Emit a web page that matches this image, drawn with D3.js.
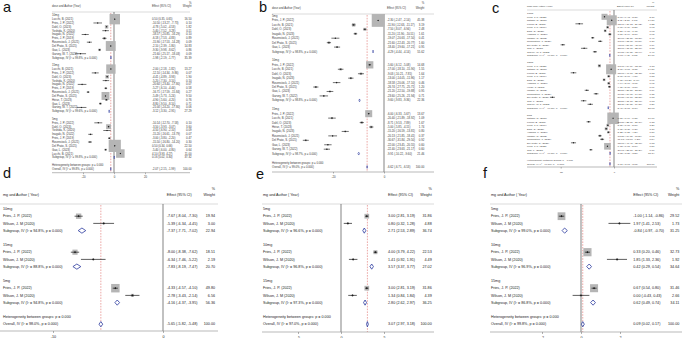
<!DOCTYPE html>
<html lang="en">
<head>
<meta charset="utf-8">
<title>Forest plots</title>
<script src="https://cdn.jsdelivr.net/npm/d3@7"></script>
<style>
  body { margin: 0; background: #fff; }
  svg { display: block; font-family: "Liberation Sans", Arial, sans-serif; }
</style>
</head>
<body>
<svg id="chart" width="685" height="338"></svg>
<script>
// ---- data: [study, effect, lower, upper, weight] ; subgroup: [effect, lower, upper, weight, I2]
var a10 = [
  ["Lucchi, B. (2021)", 0.50, 0.35, 0.65, 16.50],
  ["Fries, J. P. (2022)", -10.50, -13.27, -7.73, 0.10],
  ["Dahl, O. (2023)", -4.78, -5.02, -4.53, 1.82],
  ["Yoshida, K. (2020)", -5.40, -7.52, -3.28, 0.11],
  ["Inagaki, N. (2022)", -18.57, -20.85, -16.29, 0.10],
  ["Fries, J. P. (2019)", -6.18, -7.53, -4.83, 0.89],
  ["Rosenstock, J. (2021)", -15.90, -17.53, -14.28, 0.09],
  ["Del Prato, S. (2021)", -2.10, -2.39, -1.80, 14.83],
  ["Gao, L. (2023)", -9.30, -9.98, -8.62, 0.86],
  ["Garvey, W. T. (2022)", -21.60, -25.17, -18.03, 0.09]
];
var a10Sub = [-1.98, -2.19, -1.77, 35.39, "99.8%"];
var a15 = [
  ["Lucchi, B. (2021)", -2.00, -2.18, -1.82, 13.27],
  ["Fries, J. P. (2022)", -12.10, -14.34, -9.86, 0.07],
  ["Dahl, O. (2023)", -4.41, -4.89, -3.93, 1.90],
  ["Yoshida, K. (2020)", -5.20, -7.30, -3.10, 0.10],
  ["Inagaki, N. (2022)", -20.60, -23.40, -17.80, 0.07],
  ["Fries, J. P. (2019)", -5.27, -6.10, -4.44, 0.58],
  ["Rosenstock, J. (2021)", -16.71, -17.59, -15.84, 0.27],
  ["Del Prato, S. (2021)", -5.49, -5.73, -5.24, 9.50],
  ["Heise, T. (2023)", -4.90, -5.60, -4.20, 0.76],
  ["Gao, L. (2023)", -8.80, -9.50, -8.10, 0.71],
  ["Garvey, W. T. (2022)", -21.00, -24.20, -17.80, 0.06]
];
var a15Sub = [-3.12, -3.30, -2.95, 27.29, "99.6%"];
var a5 = [
  ["Fries, J. P. (2022)", -10.14, -12.70, -7.58, 0.10],
  ["Dahl, O. (2023)", -3.50, -3.93, -3.07, 3.60],
  ["Yoshida, K. (2020)", -4.50, -6.90, -2.10, 0.09],
  ["Inagaki, N. (2022)", -15.20, -16.61, -13.79, 0.07],
  ["Fries, J. P. (2019)", -3.00, -3.80, -2.20, 0.47],
  ["Rosenstock, J. (2021)", -15.50, -16.80, -14.20, 0.30],
  ["Del Prato, S. (2021)", 0.50, 0.34, 0.66, 22.50],
  ["Gao, L. (2023)", -5.40, -6.00, -4.80, 0.64],
  ["Lucchi, B. (2021)", 4.10, 3.93, 4.27, 11.00]
];
var a5Sub = [0.16, 0.02, 0.30, 37.32, "99.8%"];
var aOverall = [-2.07, -2.15, -1.99, "99.8%"];

var b5 = [
  ["Fries, J. P. (2022)", -2.30, -2.47, -2.14, 45.38],
  ["Lucchi, B. (2021)", -11.90, -12.63, -11.17, 3.19],
  ["Dahl, O. (2023)", -7.50, -8.07, -6.94, 2.48],
  ["Inagaki, N. (2023)", -11.20, -11.90, -10.51, 1.61],
  ["Rosenstock, J. (2021)", -19.07, -20.63, -17.50, 0.41],
  ["Del Prato, S. (2021)", -21.60, -22.43, -20.77, 1.60],
  ["Gao, L. (2023)", -18.40, -19.60, -17.21, 0.95]
];
var b5Sub = [-4.29, -4.44, -4.14, 55.62, "98.8%"];
var b10 = [
  ["Fries, J. P. (2022)", -5.60, -6.12, -5.08, 14.68],
  ["Lucchi, B. (2021)", -17.00, -18.10, -15.90, 1.55],
  ["Dahl, O. (2023)", -9.03, -10.21, -7.85, 1.64],
  ["Inagaki, N. (2023)", -13.00, -14.05, -11.96, 1.17],
  ["Rosenstock, J. (2021)", -18.58, -20.06, -17.10, 0.46],
  ["Del Prato, S. (2021)", -26.74, -27.75, -25.71, 1.20],
  ["Gao, L. (2023)", -21.20, -22.50, -19.88, 0.95],
  ["Garvey, W. T. (2022)", -23.60, -25.26, -21.94, 0.71]
];
var b10Sub = [-9.60, -9.83, -9.36, 22.36, "98.8%"];
var b15 = [
  ["Fries, J. P. (2022)", -6.00, -6.33, -5.67, 13.67],
  ["Lucchi, B. (2021)", -20.40, -21.89, -18.92, 1.09],
  ["Dahl, O. (2023)", -8.71, -9.53, -7.89, 1.67],
  ["Heise, T. (2023)", -5.00, -5.85, -4.15, 1.74],
  ["Inagaki, N. (2023)", -15.20, -16.59, -13.81, 0.80],
  ["Rosenstock, J. (2021)", -20.13, -21.85, -18.41, 0.37],
  ["Del Prato, S. (2021)", -30.67, -31.84, -29.50, 0.92],
  ["Gao, L. (2023)", -22.00, -23.45, -20.55, 0.60],
  ["Garvey, W. T. (2022)", -22.40, -23.63, -21.17, 0.60]
];
var b15Sub = [-9.91, -10.22, -9.60, 21.46, "98.7%"];
var bOverall = [-6.62, -6.71, -6.53, "99.0%"];

var c10 = [
  ["Fries, J. P. (2022)", -8.90, -9.43, -8.37, 5.37],
  ["Nathan, N. (2020)", -2.11, -2.51, -1.71, 14.80],
  ["Lucchi, B. (2021)", -32.60, -36.18, -29.02, 0.22],
  ["Fries, J. P. (2019)", -6.00, -6.79, -5.21, 0.98],
  ["Dahl, O. (2023)", -8.27, -9.06, -7.48, 0.98],
  ["Yoshida, K. (2020)", -3.87, -5.14, -2.60, 0.95],
  ["Inagaki, N. (2022)", -20.00, -21.50, -18.50, 0.40],
  ["Rosenstock, J. (2021)", -13.00, -15.00, -11.00, 0.30],
  ["Del Prato, S. (2021)", -48.00, -50.10, -45.90, 0.19],
  ["Gao, L. (2023)", -28.00, -31.00, -25.00, 0.18],
  ["Garvey, W. T. (2022)", -17.87, -19.80, -15.94, 0.40]
];
var c10Sub = [-3.93, -4.11, -3.75, 24.77, "99.8%"];
var c15 = [
  ["Fries, J. P. (2022)", -13.70, -14.69, -12.71, 1.33],
  ["Nathan, N. (2020)", -2.70, -3.07, -2.33, 14.80],
  ["Lucchi, B. (2021)", -38.00, -40.67, -35.33, 0.18],
  ["Fries, J. P. (2019)", -5.00, -5.90, -4.10, 0.88],
  ["Dahl, O. (2023)", -9.30, -10.20, -8.40, 0.96],
  ["Yoshida, K. (2020)", -4.94, -5.90, -3.98, 0.95],
  ["Heise, T. (2023)", -4.30, -5.60, -3.00, 0.61],
  ["Inagaki, N. (2022)", -25.50, -27.50, -23.50, 0.19],
  ["Rosenstock, J. (2021)", -16.80, -19.00, -14.60, 0.35],
  ["Del Prato, S. (2021)", -57.80, -60.10, -55.50, 0.18],
  ["Gao, L. (2023)", -28.50, -31.10, -25.90, 0.13],
  ["Garvey, W. T. (2022)", -22.30, -24.80, -19.80, 0.27]
];
var c15Sub = [-5.40, -5.61, -5.19, 20.63, "99.8%"];
var c5 = [
  ["Nathan, N. (2020)", -0.87, -0.99, -0.75, 19.60],
  ["Lucchi, B. (2021)", -23.80, -25.76, -21.84, 0.38],
  ["Fries, J. P. (2019)", -5.80, -6.60, -5.00, 1.20],
  ["Dahl, O. (2023)", -7.30, -8.30, -6.30, 1.30],
  ["Yoshida, K. (2020)", -5.25, -6.21, -4.29, 0.80],
  ["Inagaki, N. (2022)", -13.20, -14.81, -11.59, 0.68],
  ["Rosenstock, J. (2021)", -11.13, -13.00, -9.26, 0.54],
  ["Del Prato, S. (2021)", -38.00, -40.40, -35.60, 0.18],
  ["Fries, J. P. (2022)", -6.15, -6.61, -5.69, 6.50],
  ["Gao, L. (2023)", -21.67, -23.10, -20.24, 0.16]
];
var c5Sub = [-3.65, -3.80, -3.50, 31.34, "99.8%"];
var cOverall = [-3.77, -3.91, -3.63, "99.8%"];

var d10 = [["Fries, J. P. (2022)", -7.67, -8.04, -7.30, 19.94], ["Wilson, J. M (2020)", -5.39, -6.34, -4.45, 3.00]];
var d10Sub = [-7.37, -7.71, -7.02, 22.94, "94.8%"];
var d15 = [["Fries, J. P. (2022)", -8.00, -8.38, -7.62, 18.51], ["Wilson, J. M (2020)", -6.34, -7.46, -5.22, 2.19]];
var d15Sub = [-7.83, -8.19, -7.47, 20.70, "88.8%"];
var d5 = [["Fries, J. P. (2022)", -4.33, -4.57, -4.10, 49.80], ["Wilson, J. M (2020)", -2.78, -3.43, -2.14, 6.56]];
var d5Sub = [-4.16, -4.37, -3.95, 56.36, "94.8%"];
var dOverall = [-5.65, -5.82, -5.48, "98.0%"];

var e5 = [["Fries, J. P. (2022)", 3.00, 2.81, 3.19, 31.86], ["Wilson, J. M (2020)", 0.80, 0.32, 1.28, 4.88]];
var e5Sub = [2.71, 2.53, 2.89, 36.74, "96.6%"];
var e10 = [["Fries, J. P. (2022)", 4.00, 3.79, 4.22, 22.53], ["Wilson, J. M (2020)", 1.41, 0.92, 1.91, 4.49]];
var e10Sub = [3.57, 3.37, 3.77, 27.02, "96.8%"];
var e15 = [["Fries, J. P. (2022)", 3.00, 2.81, 3.19, 31.86], ["Wilson, J. M (2020)", 1.34, 0.84, 1.84, 4.39]];
var e15Sub = [2.80, 2.62, 2.97, 36.25, "97.3%"];
var eOverall = [3.07, 2.97, 3.18, "97.0%"];

var f5 = [["Fries, J. P. (2022)", -1.00, -1.14, -0.86, 29.52], ["Wilson, J. M (2020)", 1.97, 1.41, 2.53, 1.73]];
var f5Sub = [-0.84, -0.97, -0.70, 31.25, "99.0%"];
var f10 = [["Fries, J. P. (2022)", 0.33, 0.20, 0.46, 32.73], ["Wilson, J. M (2020)", 1.85, 1.33, 2.36, 1.92]];
var f10Sub = [0.42, 0.29, 0.54, 34.64, "96.9%"];
var f15 = [["Fries, J. P. (2022)", 0.67, 0.54, 0.80, 31.46], ["Wilson, J. M (2020)", 0.00, -0.43, 0.43, 2.66]];
var f15Sub = [0.62, 0.49, 0.74, 34.11, "86.8%"];
var fOverall = [0.09, 0.02, 0.17, "99.8%"];

var ticksA = [-20, 0, 20], ticksB = [-20, 0], ticksC = [-50, 0];
var ticksD = [-10, 0], ticksE = [-5, 0, 5], ticksF = [-2, 0, 2];

// ---- layout of the six panels ----
var styleTop = {fs: 2.8, hdr: "dose and Author (Year)", tick: 1.5, dia: 1.4, mark: 0.8, ci: 0.6, txt: "#3a3a3a"};
var styleTopC = {fs: 2.5, hdr: "dose and Author (Year)", tick: 1.5, dia: 1.3, mark: 0.75, ci: 0.6, txt: "#3a3a3a"};
var styleBot = {fs: 3.7, hdr: "mg and Author ( Year)", tick: 2, dia: 2.6, mark: 1.1, ci: 0.7, txt: "#222"};

var panels = [
  {lab: "a", lx: 3, ly: 12, st: styleTop, groups: [["10mg", a10, a10Sub], ["15mg", a15, a15Sub], ["5mg", a5, a5Sub]], overall: aOverall,
   dom: [-20, 20], rng: [83, 145], ticks: ticksA, y0: 15.3, dy: 3.84, nameX: 52, effX: 152, wtX: 191.5,
   pctY: 3.6, hdrY: 7.4, hdrLine: 12, x0: 52, x1: 190, axisY: 172.7, tickY: 178, boxK: 2.57},
  {lab: "b", lx: 259, ly: 12, st: styleTop, groups: [["5mg", b5, b5Sub], ["10mg", b10, b10Sub], ["15mg", b15, b15Sub]], overall: bOverall,
   dom: [-20, 0], rng: [333, 384], ticks: ticksB, y0: 16, dy: 4.44, nameX: 272, effX: 387, wtX: 424.3,
   pctY: 4.2, hdrY: 9.2, hdrLine: 14, x0: 272, x1: 434, axisY: 172, tickY: 177.5, boxK: 1.9},
  {lab: "c", lx: 492, ly: 13, st: styleTopC, groups: [["10mg", c10, c10Sub], ["15mg", c15, c15Sub], ["5mg", c5, c5Sub]], overall: cOverall,
   dom: [-50, 0], rng: [560.7, 614], ticks: ticksC, y0: 13.3, dy: 3.5, nameX: 527, effX: 617, wtX: 654.3,
   pctY: 3, hdrY: 6.8, hdrLine: 10, x0: 527, x1: 657, axisY: 167, tickY: 173, boxK: 2.6},
  {lab: "d", lx: 3, ly: 178, st: styleBot, groups: [["10mg", d10, d10Sub], ["15mg", d15, d15Sub], ["5mg", d5, d5Sub]], overall: dOverall,
   dom: [-10, 0], rng: [53, 163], ticks: ticksD, y0: 209, dy: 7.2, nameX: 3, effX: 166.7, wtX: 215,
   pctY: 189.5, hdrY: 195.5, hdrLine: 204, x0: 0, x1: 218, axisY: 331, tickY: 338, boxK: 1.2},
  {lab: "e", lx: 256, ly: 179, st: styleBot, groups: [["5mg", e5, e5Sub], ["10mg", e10, e10Sub], ["15mg", e15, e15Sub]], overall: eOverall,
   dom: [-5, 5], rng: [298, 384], ticks: ticksE, y0: 209, dy: 7.2, nameX: 263, effX: 388, wtX: 431.7,
   pctY: 189.5, hdrY: 195.5, hdrLine: 204, x0: 262, x1: 434, axisY: 332, tickY: 338.5, boxK: 0.84},
  {lab: "f", lx: 483, ly: 178, st: styleBot, groups: [["5mg", f5, f5Sub], ["10mg", f10, f10Sub], ["15mg", f15, f15Sub]], overall: fOverall,
   dom: [-2, 2], rng: [542, 620], ticks: ticksF, y0: 209, dy: 7.2, nameX: 491, effX: 633.3, wtX: 679.3,
   pctY: 189.5, hdrY: 195.5, hdrLine: 204, x0: 490, x1: 682, axisY: 332, tickY: 338.5, boxK: 1.43}
];

var svg = d3.select("#chart");
var ink = "#1a1a1a", navy = "#2b3a9e", boxGray = "#b5b5b5";
function f2(v) { return v.toFixed(2); }
function ciText(e, l, u) { return f2(e) + " (" + f2(l) + ", " + f2(u) + ")"; }

function buildRows(p) {
  var rows = [], k = 0;
  p.groups.forEach(function(g) {
    rows.push({type: "group", name: g[0], k: k++});
    g[1].forEach(function(s) {
      rows.push({type: "study", name: s[0], eff: s[1], lo: s[2], hi: s[3], w: s[4], k: k++});
    });
    var sb = g[2];
    rows.push({type: "sub", name: "Subgroup, IV (I\u00b2 = " + sb[4] + ", p = 0.000)", eff: sb[0], lo: sb[1], hi: sb[2], w: sb[3], k: k++});
    k++;
  });
  rows.push({type: "het", name: "Heterogeneity between groups: p = 0.000", k: k++});
  var o = p.overall;
  rows.push({type: "overall", name: "Overall, IV (I\u00b2 = " + o[3] + ", p = 0.000)", eff: o[0], lo: o[1], hi: o[2], w: 100, k: k++});
  return rows;
}

function drawPanel(p) {
  var st = p.st;
  var x = d3.scaleLinear().domain(p.dom).range(p.rng);
  var y = function(k) { return p.y0 + p.dy * k; };
  var rows = buildRows(p);
  var g = svg.append("g").attr("font-size", st.fs).attr("fill", st.txt);

  // panel letter
  svg.append("text").attr("x", p.lx).attr("y", p.ly).attr("font-size", 14.5).attr("fill", "#111").text(p.lab);

  // headers
  g.append("text").attr("x", p.wtX).attr("y", p.pctY).attr("text-anchor", "end").text("%");
  g.append("text").attr("x", p.nameX).attr("y", p.hdrY).text(st.hdr);
  g.append("text").attr("x", p.effX).attr("y", p.hdrY).text("Effect (95% CI)");
  g.append("text").attr("x", p.wtX).attr("y", p.hdrY).attr("text-anchor", "end").text("Weight");
  g.append("line").attr("x1", p.x0).attr("x2", p.x1).attr("y1", p.hdrLine).attr("y2", p.hdrLine)
    .attr("stroke", "#c4c4c4").attr("stroke-width", 0.6);

  // reference lines
  g.append("line").attr("x1", x(0)).attr("x2", x(0)).attr("y1", p.hdrLine).attr("y2", p.axisY)
    .attr("stroke", "#4d4d4d").attr("stroke-width", 0.7);
  g.append("line").attr("x1", x(p.overall[0])).attr("x2", x(p.overall[0]))
    .attr("y1", p.hdrLine + 1).attr("y2", p.axisY)
    .attr("stroke", "#d9534f").attr("stroke-width", 0.5).attr("stroke-dasharray", "1.6,1.2");

  var studies = rows.filter(function(r) { return r.type === "study"; });
  // weight boxes
  g.append("g").selectAll("rect").data(studies).join("rect")
    .attr("x", function(d) { return x(d.eff) - p.boxK * Math.sqrt(d.w) / 2; })
    .attr("y", function(d) { return y(d.k) - p.boxK * Math.sqrt(d.w) / 2; })
    .attr("width", function(d) { return p.boxK * Math.sqrt(d.w); })
    .attr("height", function(d) { return p.boxK * Math.sqrt(d.w); })
    .attr("fill", boxGray);
  // confidence intervals
  g.append("g").selectAll("line").data(studies).join("line")
    .attr("x1", function(d) { return x(d.lo); }).attr("x2", function(d) { return x(d.hi); })
    .attr("y1", function(d) { return y(d.k); }).attr("y2", function(d) { return y(d.k); })
    .attr("stroke", ink).attr("stroke-width", st.ci);
  // point estimates
  g.append("g").selectAll("path").data(studies).join("path")
    .attr("d", function(d) {
      var cx = x(d.eff), cy = y(d.k), m = st.mark;
      return "M" + (cx - m) + "," + cy + "L" + cx + "," + (cy - m) + "L" + (cx + m) + "," + cy + "L" + cx + "," + (cy + m) + "Z";
    })
    .attr("fill", ink);

  // pooled diamonds
  var pooled = rows.filter(function(r) { return r.type === "sub" || r.type === "overall"; });
  g.append("g").selectAll("path").data(pooled).join("path")
    .attr("d", function(d) {
      var cy = y(d.k), h = st.dia;
      return "M" + x(d.lo) + "," + cy + "L" + x(d.eff) + "," + (cy - h) + "L" + x(d.hi) + "," + cy + "L" + x(d.eff) + "," + (cy + h) + "Z";
    })
    .attr("fill", "#fff").attr("stroke", navy).attr("stroke-width", st.fs < 3 ? 0.6 : 0.8);

  // row texts
  g.append("g").selectAll("text").data(rows).join("text")
    .attr("x", p.nameX).attr("y", function(d) { return y(d.k); }).attr("dy", "0.35em")
    .text(function(d) { return d.name; });
  var withStats = rows.filter(function(r) { return r.eff !== undefined; });
  g.append("g").selectAll("text").data(withStats).join("text")
    .attr("x", p.effX).attr("y", function(d) { return y(d.k); }).attr("dy", "0.35em")
    .text(function(d) { return ciText(d.eff, d.lo, d.hi); });
  g.append("g").selectAll("text").data(withStats).join("text")
    .attr("x", p.wtX).attr("y", function(d) { return y(d.k); }).attr("dy", "0.35em").attr("text-anchor", "end")
    .text(function(d) { return f2(d.w); });

  // x axis
  g.append("line").attr("x1", p.x0).attr("x2", p.x1).attr("y1", p.axisY).attr("y2", p.axisY)
    .attr("stroke", "#8c8c8c").attr("stroke-width", 0.6);
  var ax = g.append("g").attr("transform", "translate(0," + p.axisY + ")")
    .call(d3.axisBottom(x).tickValues(p.ticks).tickSize(st.tick).tickFormat(function(v) { return String(v); }));
  ax.select(".domain").remove();
  ax.selectAll("line").attr("stroke", "#666").attr("stroke-width", 0.5);
  ax.selectAll("text").attr("font-size", st.fs).attr("font-family", null).attr("fill", st.txt)
    .attr("y", null).attr("dy", null)
    .attr("transform", function() { return "translate(0," + (p.tickY - p.axisY) + ")"; });
}

panels.forEach(drawPanel);
</script>
</body>
</html>
